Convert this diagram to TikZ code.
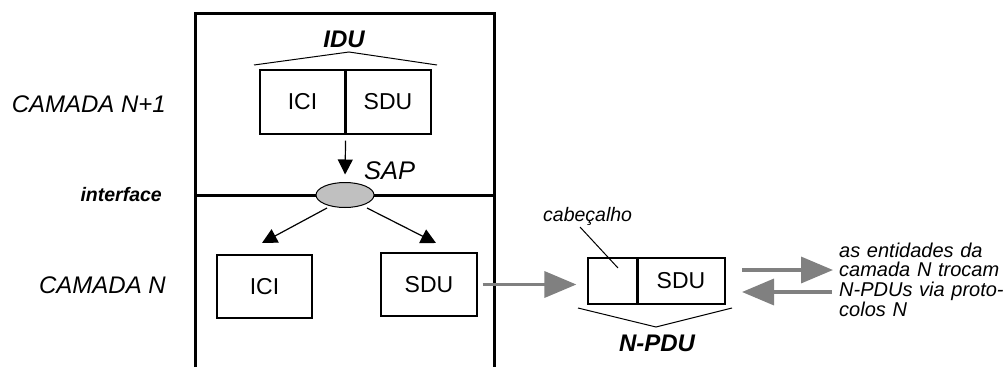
\documentclass[tikz,border=0pt]{standalone}
\usepackage{fontspec}
\setmainfont{Liberation Sans}
\usetikzlibrary{arrows.meta,shapes.geometric}
\definecolor{arrowgray}{HTML}{808080}
\definecolor{sapgray}{HTML}{C0C0C0}
\tikzset{
  cell/.style={draw, line width=1.2pt, inner sep=0pt, font=\fontsize{23}{23}\selectfont},
  layerlabel/.style={inner sep=0pt, font=\fontsize{24}{24}\selectfont\itshape},
  boldlabel/.style={inner sep=0pt, font=\fontsize{24}{24}\selectfont\bfseries\itshape},
  wall/.style={line width=3pt},
  brace/.style={line width=1pt},
  downarrow/.style={line width=1.2pt, -{Triangle[length=15pt,width=15pt]}},
  pduarrow/.style={draw=arrowgray, line width=3.5pt, -{Triangle[length=32pt,width=26pt]}},
  note/.style={inner sep=0pt, font=\fontsize{20}{19.8}\selectfont\itshape}
}
\begin{document}
\begin{tikzpicture}[x=1pt,y=-1pt]
\useasboundingbox (0,0) rectangle (1003,367);

% layer walls and the interface line
\draw[wall] (195,367) -- (195,13) -- (494,13) -- (494,367);
\draw[wall] (195,195) -- (494,195);

% layer names
\node[layerlabel, anchor=base east] (lblup) at (166,112) {CAMADA N+1};
\node[inner sep=0pt, font=\fontsize{19.5}{19.5}\selectfont\bfseries\itshape, anchor=base east] (lblif) at (162,201) {interface};
\node[layerlabel, anchor=base east] (lbldown) at (166,293) {CAMADA N};

% IDU of layer N+1
\node[cell, minimum width=85pt, minimum height=64pt] (iciup) at (302.5,102) {ICI};
\node[cell, minimum width=86pt, minimum height=64pt] (sduup) at (388,102) {SDU};
\draw[line width=1.8pt] (iciup.north east) -- (iciup.south east);
\coordinate (iduL) at (254,65);
\coordinate (iduT) at (349,52);
\coordinate (iduR) at (437,65);
\draw[brace] (iduL) -- (iduT) -- (iduR);
\node[boldlabel] (idu) at (344,39) {IDU};

% service access point
\node[ellipse, draw, line width=1pt, fill=sapgray, minimum width=58pt, minimum height=25pt, inner sep=0pt] (sap) at (345,195) {};
\node[layerlabel, font=\fontsize{25.5}{25.5}\selectfont\itshape, anchor=west] (saplbl) at (364,171) {SAP};
\draw[downarrow, shorten <=6pt, shorten >=7.5pt] (iciup.south east) -- (sap.north);

% ICI and SDU in layer N
\node[cell, minimum width=95pt, minimum height=63pt] (icidown) at (264.5,286.5) {ICI};
\node[cell, minimum width=96pt, minimum height=63pt] (sdudown) at (429,284.5) {SDU};
\coordinate (tipL) at (262,243);
\coordinate (tipR) at (436,243);
\coordinate (fromL) at (327,208);
\coordinate (fromR) at (367,208);
\draw[downarrow] (fromL) -- (tipL);
\draw[downarrow] (fromR) -- (tipR);

% N-PDU
\node[cell, minimum width=49pt, minimum height=46pt] (hdr) at (612.5,281) {};
\node[cell, minimum width=88pt, minimum height=46pt] (pdusdu) at (681,281) {SDU};
\draw[line width=2pt] (hdr.north east) -- (hdr.south east);
\coordinate (pduL) at (578,308);
\coordinate (pduB) at (656,327);
\coordinate (pduR) at (732,308);
\draw[brace] (pduL) -- (pduB) -- (pduR);
\node[boldlabel] (npdu) at (657,343) {N-PDU};

% header label
\node[inner sep=0pt, font=\fontsize{19.5}{19.5}\selectfont\itshape, anchor=base west] (cab) at (543,221) {cabeçalho};
\coordinate (cabtip) at (618,268);
\draw[line width=1pt] (580,227) -- (cabtip);

% SDU handed down into the N-PDU
\draw[pduarrow, shorten <=5pt, shorten >=11pt] (sdudown.east) -- (sdudown.east -| hdr.west);

% peer exchange
\coordinate (outS) at (742,270);
\coordinate (outE) at (833,270);
\coordinate (inS) at (832,292);
\coordinate (inE) at (742,292);
\draw[pduarrow] (outS) -- (outE);
\draw[pduarrow] (inS) -- (inE);
\node[note, text width=200pt, align=left, anchor=base west] (peer) at (839,257)
  {as entidades da\\camada N trocam\\N-PDUs via proto-\\colos N};
\end{tikzpicture}
\end{document}
